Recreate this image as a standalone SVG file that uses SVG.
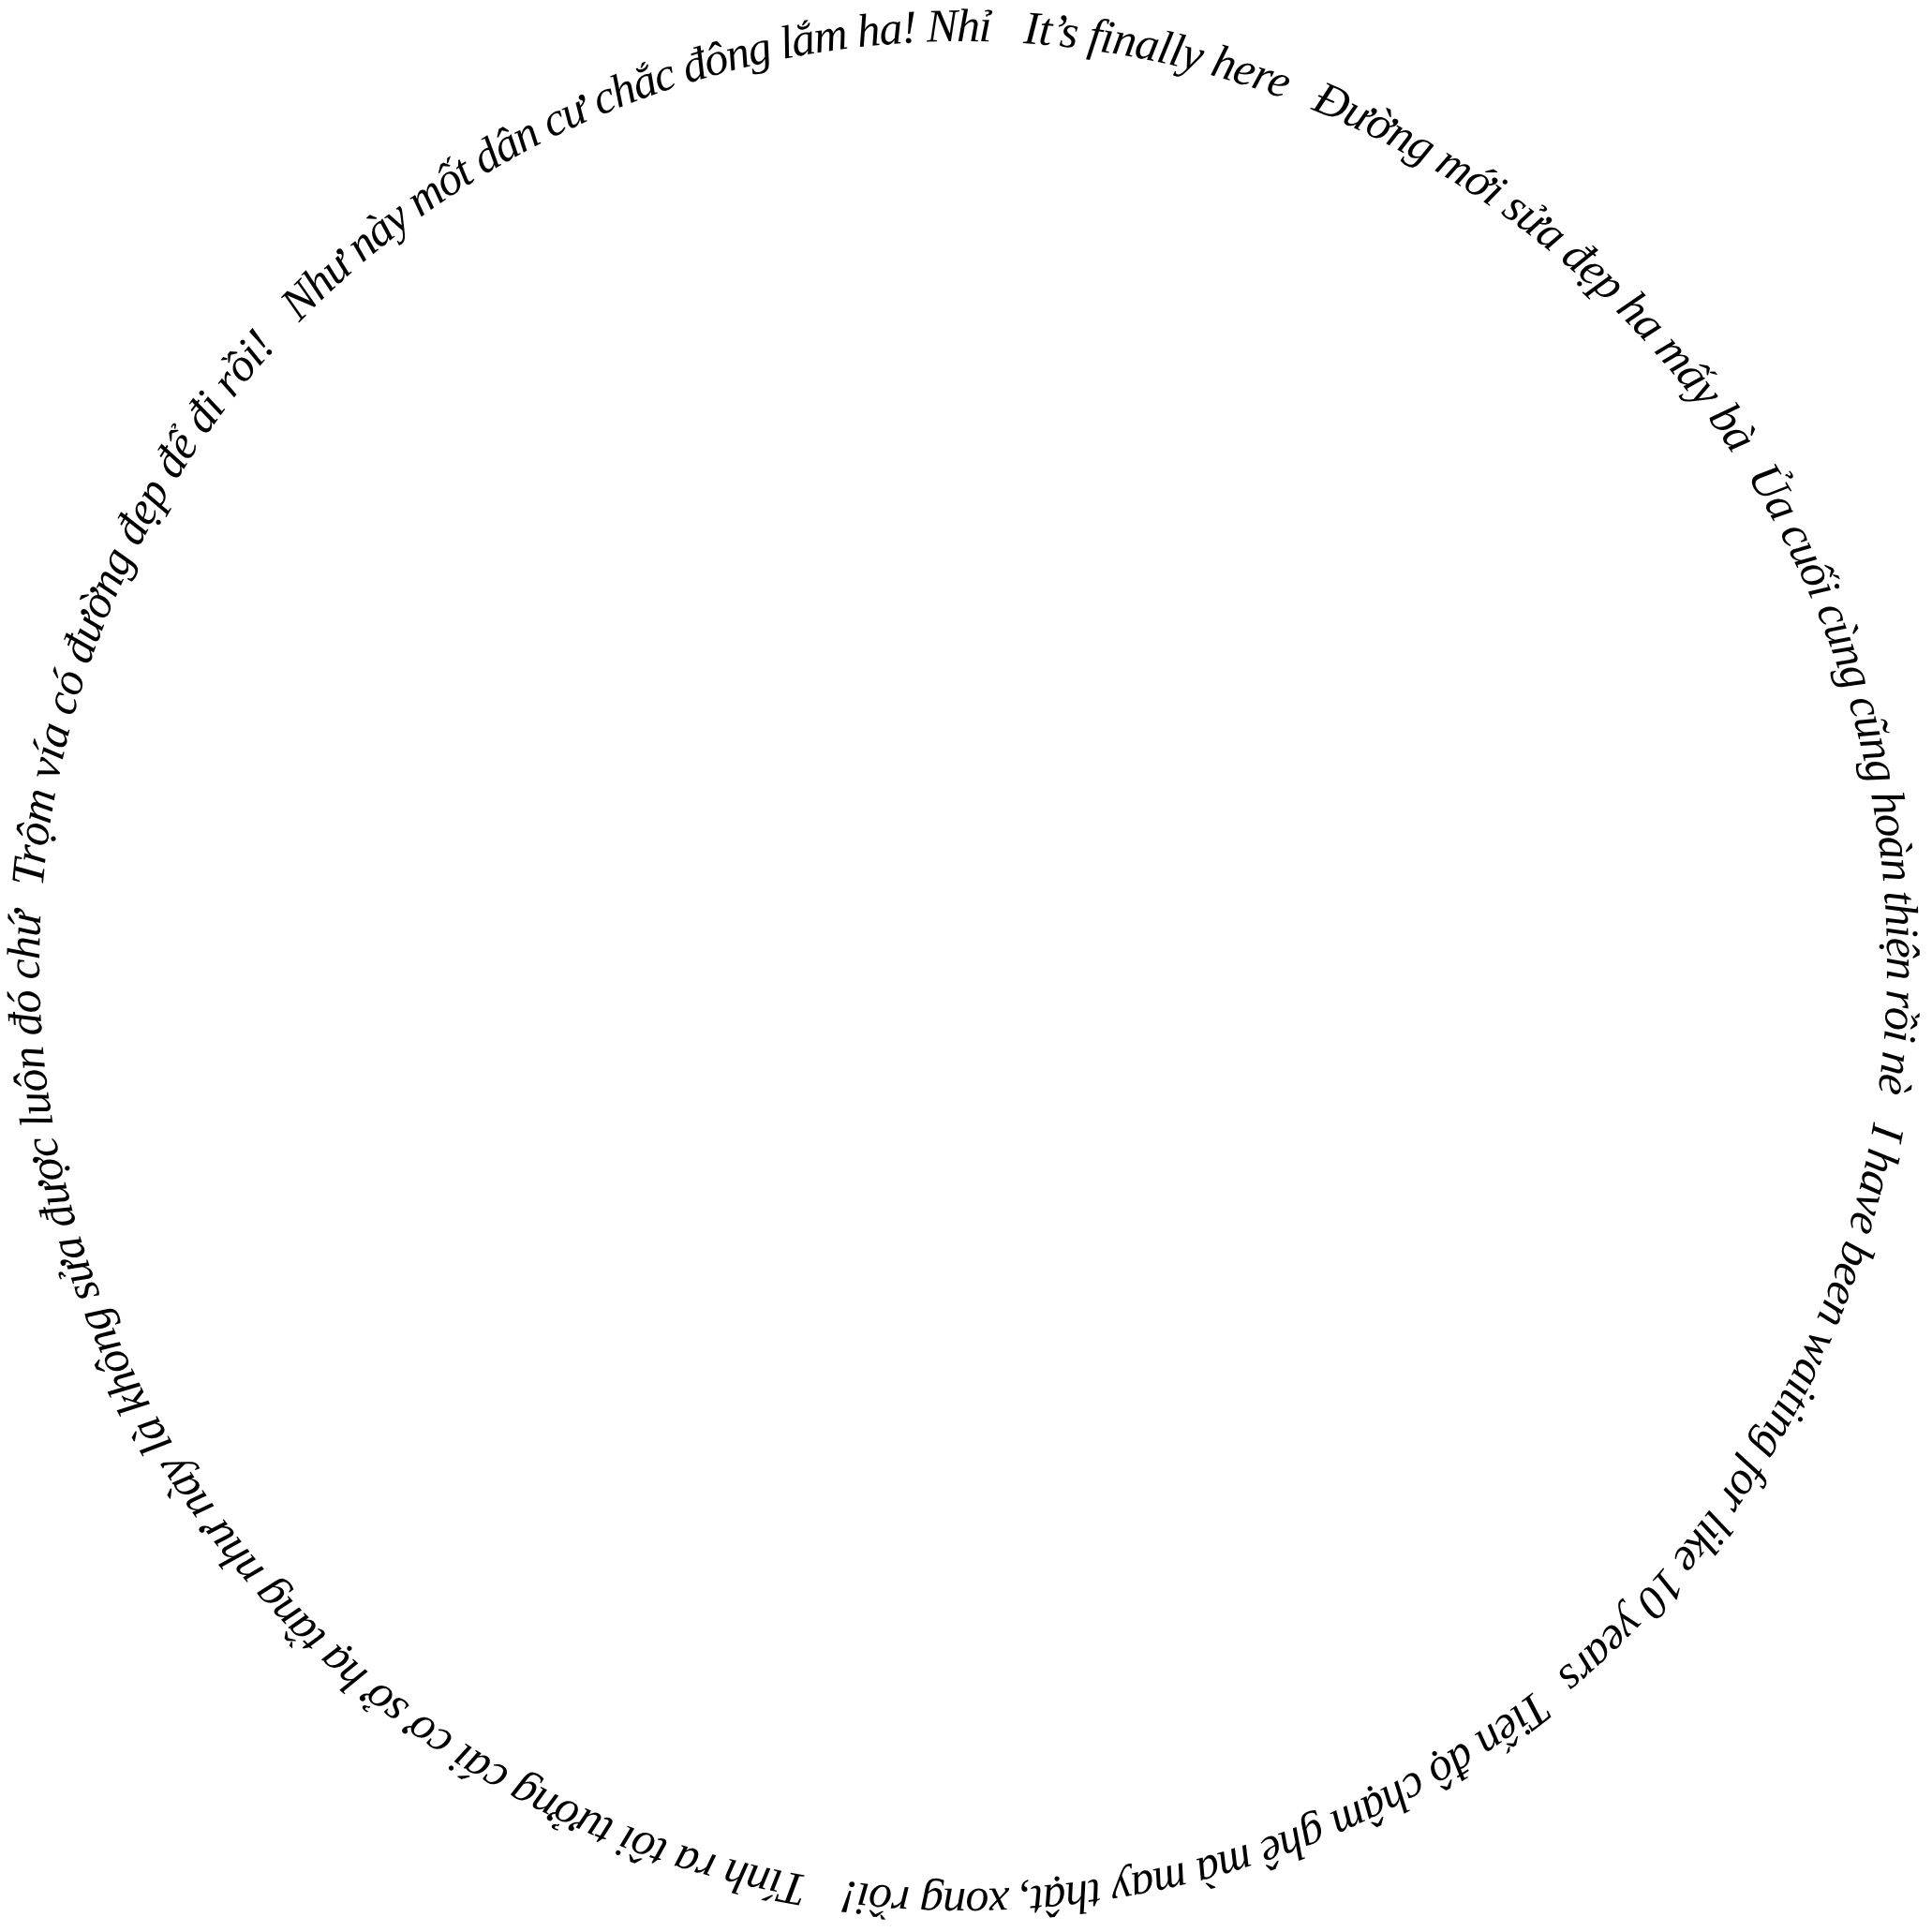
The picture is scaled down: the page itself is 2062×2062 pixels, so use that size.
<svg xmlns="http://www.w3.org/2000/svg" xmlns:xlink="http://www.w3.org/1999/xlink" width="2062" height="2062" viewBox="0 0 2062 2062">
  <style>
    .ring { font-family: "Liberation Serif", "Times New Roman", serif; font-style: italic; font-size: 50px; fill: #000; }
  </style>
  <defs>
    <path id="circle" d="M 1028,44 A 986,986 0 1,1 1028,2016 A 986,986 0 1,1 1028,44 A 986,986 0 1,1 1028,2016" fill="none"/>
  </defs>
  <rect width="2062" height="2062" fill="#ffffff"/>
  <g id="ring-text">
    <g id="seg1"><text class="ring"><textPath href="#circle" xlink:href="#circle" startOffset="64" textLength="286" lengthAdjust="spacing">It’s finally here</textPath></text></g>
    <g id="seg2"><text class="ring"><textPath href="#circle" xlink:href="#circle" startOffset="380" textLength="592" lengthAdjust="spacing">Đường mới sửa đẹp ha mấy bà</textPath></text></g>
    <g id="seg3"><text class="ring"><textPath href="#circle" xlink:href="#circle" startOffset="998" textLength="688" lengthAdjust="spacing">Ủa cuối cùng cũng hoàn thiện rồi nè</textPath></text></g>
    <g id="seg4"><text class="ring"><textPath href="#circle" xlink:href="#circle" startOffset="1717" textLength="694" lengthAdjust="spacing">I have been waiting for like 10 years</textPath></text></g>
    <g id="seg5"><text class="ring"><textPath href="#circle" xlink:href="#circle" startOffset="2438" textLength="788" lengthAdjust="spacing">Tiến độ chậm ghê mà may thật, xong rồi!</textPath></text></g>
    <g id="seg6"><text class="ring"><textPath href="#circle" xlink:href="#circle" startOffset="3263" textLength="1440" lengthAdjust="spacing">Tính ra tôi tưởng cái cơ sở hạ tầng như này là không sửa được luôn đó chứ</textPath></text></g>
    <g id="seg7"><text class="ring"><textPath href="#circle" xlink:href="#circle" startOffset="4729" textLength="640" lengthAdjust="spacing">Trộm vía có đường đẹp để đi rồi!</textPath></text></g>
    <g id="seg8"><text class="ring"><textPath href="#circle" xlink:href="#circle" startOffset="5404" textLength="821" lengthAdjust="spacing">Như này mốt dân cư chắc đông lắm ha! Nhỉ</textPath></text></g>
  </g>
</svg>
